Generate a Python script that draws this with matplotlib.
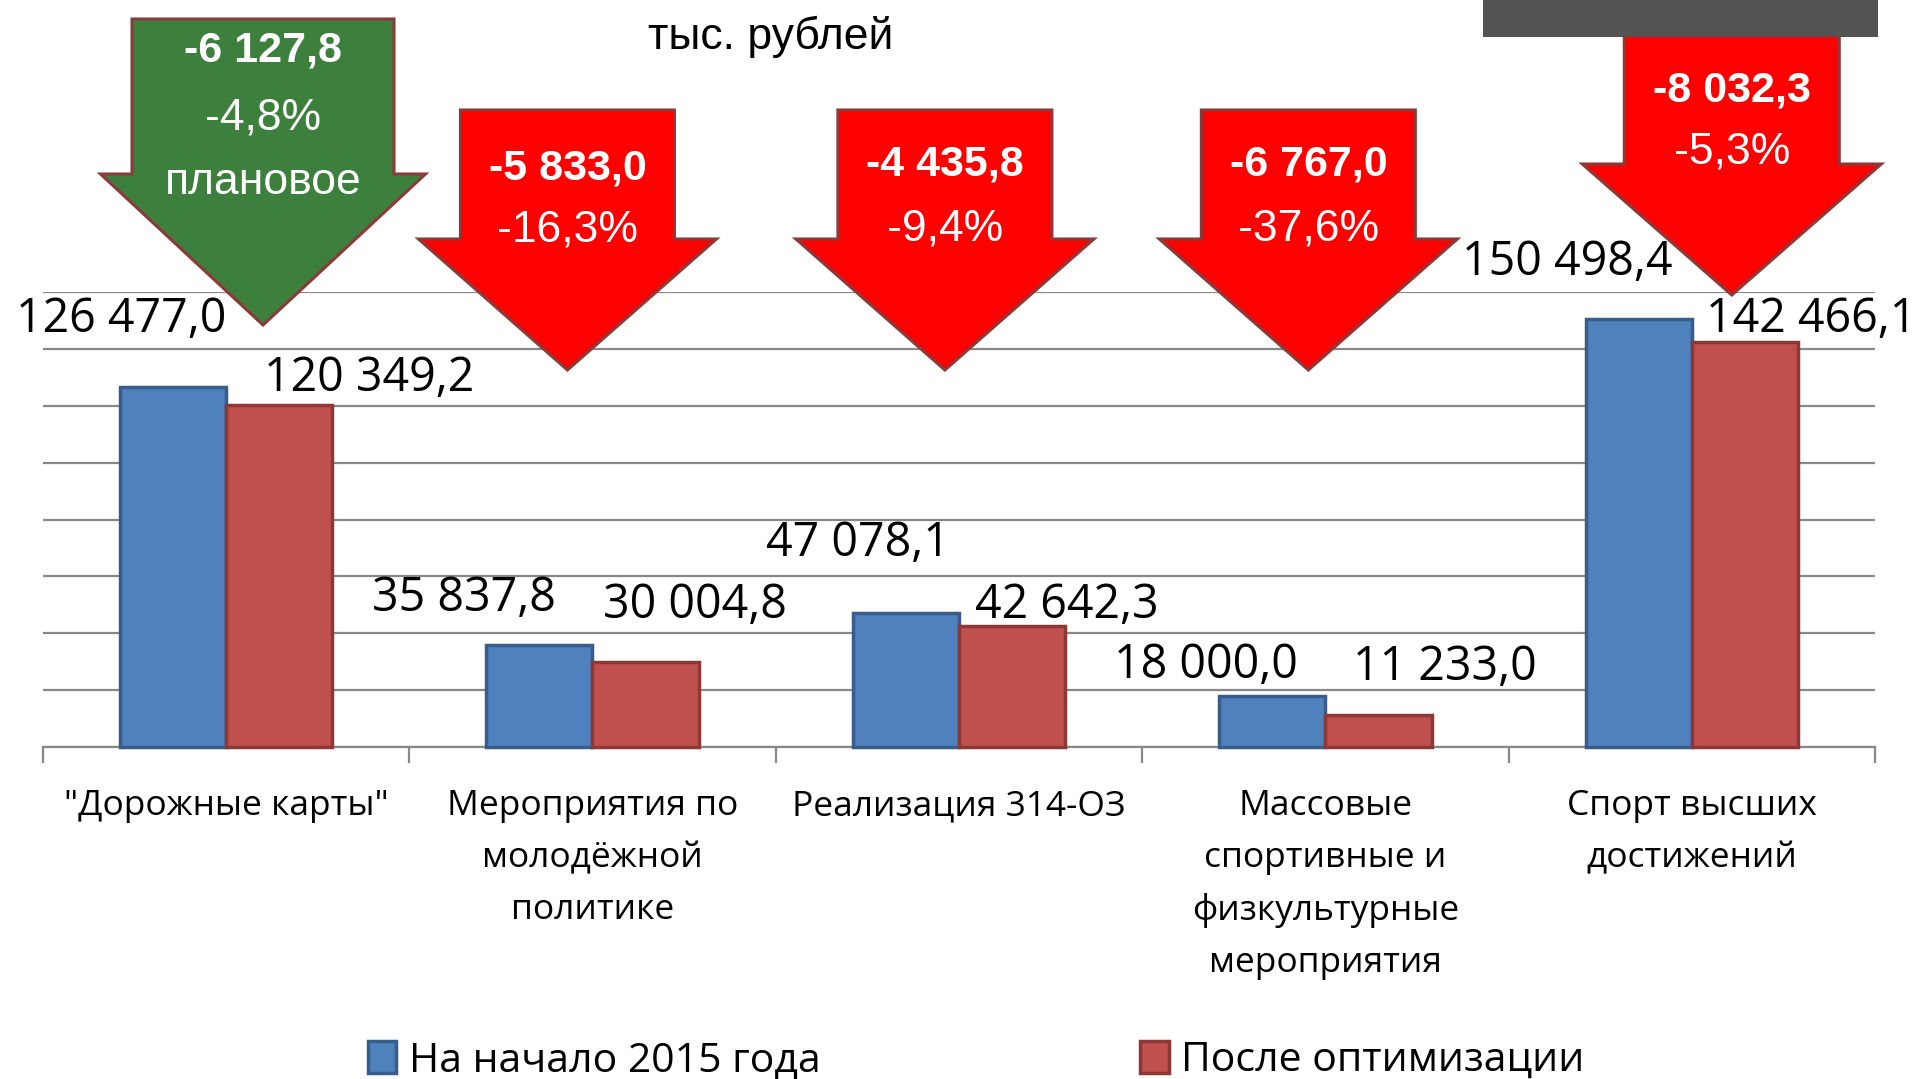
import matplotlib
matplotlib.use("Agg")
import matplotlib.pyplot as plt
from matplotlib.patches import Polygon, Rectangle, Patch
from matplotlib import font_manager
import numpy as np

# ---- data ----
categories = ['"Дорожные карты"',
              'Мероприятия по\nмолодёжной\nполитике',
              'Реализация 314-ОЗ',
              'Массовые\nспортивные и\nфизкультурные\nмероприятия',
              'Спорт высших\nдостижений']
before = [126477.0, 35837.8, 47078.1, 18000.0, 150498.4]
after = [120349.2, 30004.8, 42642.3, 11233.0, 142466.1]
series_names = ['На начало 2015 года', 'После оптимизации']
unit_label = 'тыс. рублей'
planned_note = 'плановое'

# ---- layout (pixels in the 1919x1079 picture) ----
W, H = 1919, 1079
before_lbl_off = [(-52, 68), (-75, 47), (-48, 70), (-66, 31), (-71, 57)]
after_lbl_off = [(90, 27), (49, 56), (55, 20), (66, 48), (66, 23)]
# arrow: dx from category centre, top, shoulder, tip, body width, head width, text rows
arrows = [
    dict(dx=37, top=19, sh=174, tip=325, bw=262, hw=325, fc='#3d803d', rows=[50, 118, 183]),
    dict(dx=-25, top=110, sh=239, tip=370, bw=214, hw=298, fc='#ff0000', rows=[168, 230]),
    dict(dx=-14, top=110, sh=239, tip=370, bw=214, hw=298, fc='#ff0000', rows=[165, 229]),
    dict(dx=-17, top=110, sh=239, tip=370, bw=214, hw=298, fc='#ff0000', rows=[165, 229]),
    dict(dx=40, top=20, sh=164, tip=295, bw=215, hw=299, fc='#ff0000', rows=[90, 152]),
]

names = {f.name for f in font_manager.fontManager.ttflist}
narrow = 'Liberation Sans Narrow' if 'Liberation Sans Narrow' in names else 'Liberation Sans'
plt.rcParams['font.family'] = ['Open Sans', 'DejaVu Sans']


def fmt(v, dec=1):
    s = f"{v:,.{dec}f}"
    return s.replace(',', ' ').replace('.', ',')


def fig_xy(x, y):
    return x / W, 1 - y / H


fig = plt.figure(figsize=(19.19, 10.79), dpi=100)
ax = fig.add_axes([42.8 / W, 1 - 747 / H, (1875 - 42.8) / W, (747 - 292) / H])

x = np.arange(len(categories))
bw = 0.29
blue, red = '#4f81bd', '#c0504d'
ax.bar(x - bw / 2, before, bw, color=blue, edgecolor='#385d8a', linewidth=2.5, zorder=3, clip_on=False)
ax.bar(x + bw / 2, after, bw, color=red, edgecolor='#8c3836', linewidth=2.5, zorder=3, clip_on=False)

ax.set_xlim(-0.5, len(categories) - 0.5)
ax.set_ylim(0, 160000)
ax.set_yticks(np.arange(0, 160001, 20000))
ax.yaxis.grid(True, color='#888888', linewidth=1.6, zorder=0)
ax.set_axisbelow(True)
ax.tick_params(axis='y', length=0, labelleft=False)
for s in ['left', 'top', 'right']:
    ax.spines[s].set_visible(False)
ax.spines['bottom'].set_color('#888888')
ax.spines['bottom'].set_linewidth(1.6)

ax.set_xticks(x)
ax.set_xticklabels(categories, fontsize=25.5, linespacing=1.68)
ax.tick_params(axis='x', which='major', length=0, pad=30.5)
ax.set_xticks(np.arange(-0.5, len(categories), 1), minor=True)
ax.tick_params(axis='x', which='minor', length=11.5, width=1.6, color='#888888')

for i in range(len(categories)):
    ax.annotate(fmt(before[i]), (x[i] - bw / 2, before[i]), xytext=before_lbl_off[i],
                textcoords='offset pixels', ha='center', va='center', fontsize=33.5, zorder=4)
    ax.annotate(fmt(after[i]), (x[i] + bw / 2, after[i]), xytext=after_lbl_off[i],
                textcoords='offset pixels', ha='center', va='center', fontsize=33.5, zorder=4)

# change arrows
for i, a in enumerate(arrows):
    xc = ax.transData.transform((x[i], 0))[0] + a['dx']
    pts = [(xc - a['bw'] / 2, a['top']), (xc + a['bw'] / 2, a['top']), (xc + a['bw'] / 2, a['sh']),
           (xc + a['hw'] / 2, a['sh']), (xc, a['tip']), (xc - a['hw'] / 2, a['sh']),
           (xc - a['bw'] / 2, a['sh'])]
    fig.add_artist(Polygon([fig_xy(*p) for p in pts], closed=True, transform=fig.transFigure,
                           facecolor=a['fc'], edgecolor='#8b3a3a', linewidth=2.2, zorder=5))
    diff = after[i] - before[i]
    pct = diff / before[i] * 100
    lines = [(fmt(diff), 'bold', 31), (fmt(pct) + '%', 'normal', 32)]
    if i == 0:
        lines.append((planned_note, 'normal', 32))
    for (t, wgt, fs), ry in zip(lines, a['rows']):
        fig.text(*fig_xy(xc, ry), t, ha='center', va='center', color='white', fontsize=fs,
                 fontweight=wgt, family=narrow, zorder=6)

fig.text(*fig_xy(771, 37), unit_label, ha='center', va='center', fontsize=32, family=narrow)

# dark box at the top right
fig.add_artist(Rectangle(fig_xy(1483, 37), 395 / W, 40 / H, transform=fig.transFigure,
                         facecolor='#535353', edgecolor='none', zorder=7))

fig.legend(handles=[Patch(facecolor=blue, edgecolor='#385d8a', linewidth=2.5),
                    Patch(facecolor=red, edgecolor='#8c3836', linewidth=2.5)],
           labels=series_names, loc='center', bbox_to_anchor=fig_xy(976, 1061), ncol=2,
           frameon=False, fontsize=29.5, handlelength=0.7, handleheight=0.8,
           handletextpad=0.3, columnspacing=7.8)

fig.savefig('out.png', dpi=100)
